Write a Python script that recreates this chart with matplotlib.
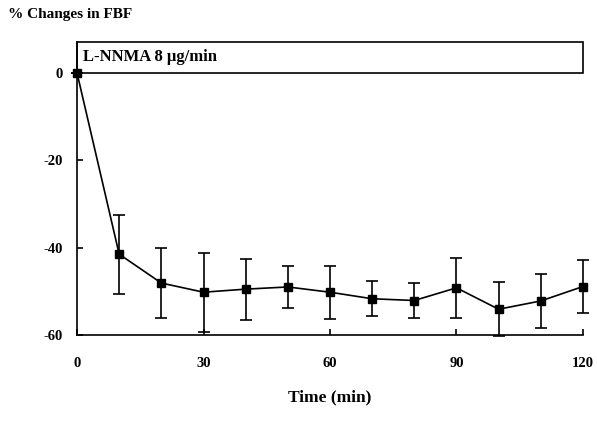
import matplotlib
matplotlib.use("Agg")
import matplotlib.pyplot as plt
from matplotlib.patches import Rectangle

plt.rcParams["font.family"] = ["Liberation Serif", "DejaVu Serif"]
plt.rcParams["axes.unicode_minus"] = False

time = [0, 10, 20, 30, 40, 50, 60, 70, 80, 90, 100, 110, 120]
change = [0, -41.5, -48.1, -50.2, -49.5, -49.0, -50.2, -51.7, -52.1, -49.2, -54.1, -52.2, -48.9]
sem = [0, 9.0, 8.1, 9.0, 7.0, 4.9, 6.1, 4.0, 4.0, 6.9, 6.2, 6.1, 6.0]
xticks = [0, 30, 60, 90, 120]
yticks = [0, -20, -40, -60]

fig = plt.figure(figsize=(5.97, 4.23), dpi=100)
ax = fig.add_axes([0.129, 0.208, 0.8475, 0.693])

ax.errorbar(time, change, yerr=sem, color="black", lw=1.2, marker="s", ms=6,
            capsize=4, elinewidth=1.2, capthick=1.2, clip_on=False, zorder=3)

# infusion bar on top
top = 7.1
ax.add_patch(Rectangle((0, 0), 120, top, fill=False, lw=1.2, ec="black", clip_on=False))
ax.text(1.5, top / 2, "L-NNMA 8 \u03bcg/min", fontsize=12, fontweight="bold",
        va="center", ha="left")

ax.set_xlim(0, 120)
ax.set_ylim(-60, top)
ax.set_xticks(xticks)
ax.set_yticks(yticks)
ax.spines["top"].set_visible(False)
ax.spines["right"].set_visible(False)
ax.spines["left"].set_linewidth(1.2)
ax.spines["bottom"].set_linewidth(1.2)
ax.tick_params(direction="in", length=4, width=1.2, labelsize=10.5)
ax.tick_params(axis="x", pad=16)
ax.tick_params(axis="y", pad=10)
for lab in ax.get_xticklabels() + ax.get_yticklabels():
    lab.set_fontweight("bold")

ax.set_xlabel("Time (min)", fontsize=12.5, fontweight="bold", labelpad=14)
fig.text(0.013, 0.965, "% Changes in FBF", fontsize=11, fontweight="bold", va="center")

fig.savefig("out.png", dpi=100)
